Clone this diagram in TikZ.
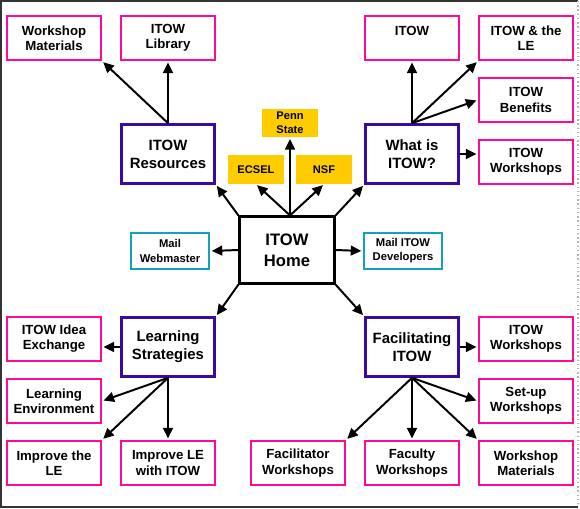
\documentclass[tikz,border=0pt]{standalone}
\usepackage{fontspec}
\setmainfont{Liberation Sans}
\usetikzlibrary{arrows.meta}
\definecolor{pagebox}{HTML}{FF0A96}
\definecolor{topicline}{HTML}{3A0A9E}
\definecolor{sponsorfill}{HTML}{FFCC00}
\definecolor{mailline}{HTML}{12A3B8}
\definecolor{framedark}{HTML}{333333}

\begin{document}
\begin{tikzpicture}[x=0.025cm,y=-0.025cm,
  font=\bfseries,
  page/.style={draw=pagebox,line width=1.4pt,fill=white,minimum width=2.36cm,
               minimum height=1.11cm,align=center,inner sep=1pt,
               font=\fontsize{9.4}{10.8}\selectfont\bfseries},
  topic/.style={draw=topicline,line width=2pt,fill=white,minimum width=2.33cm,
                minimum height=1.47cm,align=center,
                font=\fontsize{10.6}{12.8}\selectfont\bfseries},
  hub/.style={draw=black,line width=2pt,fill=white,minimum width=2.36cm,
              minimum height=1.66cm,align=center,
              font=\fontsize{11.8}{15}\selectfont\bfseries},
  sponsor/.style={fill=sponsorfill,minimum width=1.4cm,minimum height=0.72cm,
                  align=center,inner sep=1pt,
                  font=\fontsize{7.9}{10}\selectfont\bfseries},
  mail/.style={draw=mailline,line width=1.3pt,fill=white,minimum width=1.97cm,
               minimum height=0.92cm,align=center,inner sep=1pt,
               font=\fontsize{8}{10}\selectfont\bfseries},
  link/.style={-{Triangle[length=7.5pt,width=7pt]},line width=1.4pt,shorten >=1pt}]
  \useasboundingbox (0,0) rectangle (580,508);
  \draw[framedark,line width=1.4pt] (578,1) -- (1,1) -- (1,507) -- (578,507);
  \draw[gray!60,line width=1pt,dotted] (578,1) -- (578,507);
  % hub and its neighbours
  \node[hub] (home) at (287,250) {ITOW\\Home};
  \node[mail] (mailw) at (170,251) {Mail\\Webmaster};
  \node[mail] (maild) at (403,251) {Mail ITOW\\Developers};
  \node[sponsor] (penn) at (290,123) {Penn\\State};
  \node[sponsor] (ecsel) at (256,169.5) {ECSEL};
  \node[sponsor] (nsf) at (324,169.5) {NSF};
  \coordinate (hubtop) at (home.north -| penn.south);
  % four topics
  \node[topic] (res) at (168,154) {ITOW\\Resources};
  \node[topic] (what) at (412,154) {What is\\ITOW?};
  \node[topic] (learn) at (168,347) {Learning\\Strategies};
  \node[topic] (facil) at (412,347) {Facilitating\\ITOW};
  % pages
  \node[page] (wsmatA) at (54,38) {Workshop\\Materials};
  \node[page] (lib) at (168,38) {ITOW\\Library};
  \node[page] (itow) at (412,38) {ITOW\\\mbox{}};
  \node[page] (itowle) at (526,38) {ITOW \& the\\LE};
  \node[page] (benefit) at (526,100) {ITOW\\Benefits};
  \node[page] (wsA) at (526,162) {ITOW\\Workshops};
  \node[page] (idea) at (54,339) {ITOW Idea\\Exchange};
  \node[page] (lenv) at (54,401) {Learning\\Environment};
  \node[page] (impr) at (54,463) {Improve the\\LE};
  \node[page] (imprle) at (168,463) {Improve LE\\with ITOW};
  \node[page] (wsB) at (526,339) {ITOW\\Workshops};
  \node[page] (setup) at (526,401) {Set-up\\Workshops};
  \node[page] (facws) at (298,463) {Facilitator\\Workshops};
  \node[page] (faculty) at (412,463) {Faculty\\Workshops};
  \node[page] (wsmatB) at (526,463) {Workshop\\Materials};
  % connectors
  \draw[link] (hubtop) -- (penn.south);
  \draw[link] (hubtop) -- (ecsel.south);
  \draw[link] (hubtop) -- (nsf.south);
  \draw[link] (home.north west) -- (res.south east);
  \draw[link] (home.north east) -- (what.south west);
  \draw[link] (home.south west) -- (learn.north east);
  \draw[link] (home.south east) -- (facil.north west);
  \draw[link] (home.west) -- (mailw.east);
  \draw[link] (home.east) -- (maild.west);
  \draw[link] (res.north) -- (lib.south);
  \draw[link] (res.north) -- (wsmatA.south east);
  \draw[link] (what.north) -- (itow.south);
  \draw[link] (what.north) -- (itowle.south west);
  \draw[link] (what.north) -- (benefit.west);
  \draw[link] (what.east) -- (what.east -| wsA.west);
  \draw[link] (learn.west) -- (learn.west -| idea.east);
  \draw[link] (learn.south) -- (lenv.east);
  \draw[link] (learn.south) -- (impr.north east);
  \draw[link] (learn.south) -- (imprle.north);
  \draw[link] (facil.east) -- (facil.east -| wsB.west);
  \draw[link] (facil.south) -- (setup.west);
  \draw[link] (facil.south) -- (facws.north east);
  \draw[link] (facil.south) -- (faculty.north);
  \draw[link] (facil.south) -- (wsmatB.north west);
\end{tikzpicture}
\end{document}
